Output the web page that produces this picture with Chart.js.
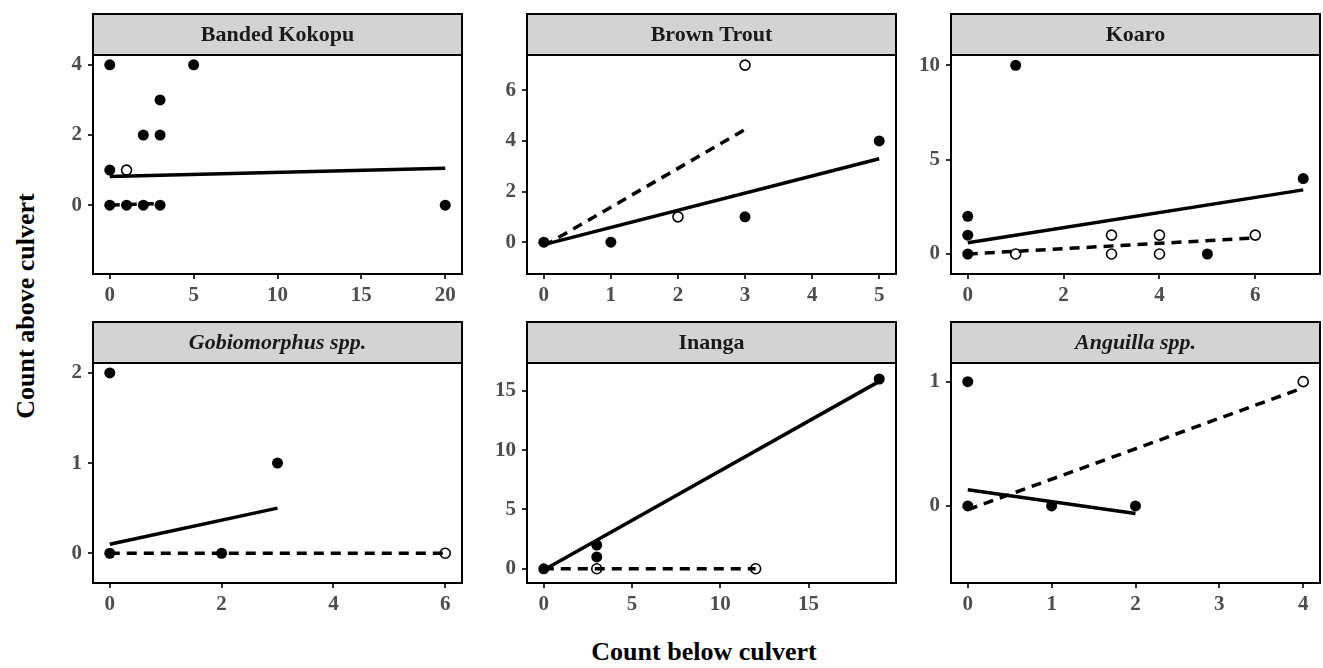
<!DOCTYPE html>
<html lang="en">
<head>
  <meta charset="UTF-8" />
  <title>Count above vs below culvert</title>
  <script src="https://cdn.jsdelivr.net/npm/chart.js"></script>
  <style>
    body { margin: 0; background: #fff; width: 1323px; height: 668px; position: relative; overflow: hidden; }
    canvas { position: absolute; }
    .ytitle {
      position: absolute; left: 26px; top: 306px;
      transform: translate(-50%, -50%) rotate(-90deg);
      font: bold 26px "Liberation Serif", "Times New Roman", serif; color: #000; white-space: nowrap;
    }
    .xtitle {
      position: absolute; left: 704px; top: 652px;
      transform: translate(-50%, -50%);
      font: bold 26px "Liberation Serif", "Times New Roman", serif; color: #000; white-space: nowrap;
    }
  </style>
</head>
<body>

  <div class="ytitle">Count above culvert</div>
  <div class="xtitle">Count below culvert</div>

  <script>
    // filled = one survey type, open = the other; each fit line is two end points
    const kokopuFilled = [[0,4],[5,4],[3,3],[2,2],[3,2],[0,1],[0,0],[1,0],[2,0],[3,0],[20,0]];
    const kokopuOpen   = [[1,1]];
    const kokopuSolid  = [[0,0.82],[20,1.05]];
    const kokopuDashed = [[0,0],[3,0.05]];

    const troutFilled = [[0,0],[1,0],[3,1],[5,4]];
    const troutOpen   = [[3,7],[2,1]];
    const troutSolid  = [[0,-0.1],[5,3.3]];
    const troutDashed = [[0,-0.15],[3,4.45]];

    const koaroFilled = [[0,2],[0,1],[0,0],[1,10],[5,0],[7,4]];
    const koaroOpen   = [[1,0],[3,1],[3,0],[4,1],[4,0],[6,1]];
    const koaroSolid  = [[0,0.6],[7,3.4]];
    const koaroDashed = [[0,0],[6,0.85]];

    const gobioFilled = [[0,2],[0,0],[2,0],[3,1]];
    const gobioOpen   = [[6,0]];
    const gobioSolid  = [[0,0.1],[3,0.5]];
    const gobioDashed = [[0,0],[6,0]];

    const inangaFilled = [[0,0],[3,2],[3,1],[19,16]];
    const inangaOpen   = [[3,0],[12,0]];
    const inangaSolid  = [[0,-0.1],[19,15.8]];
    const inangaDashed = [[0,0],[12,0]];

    const anguillaFilled = [[0,1],[0,0],[1,0],[2,0]];
    const anguillaOpen   = [[4,1]];
    const anguillaSolid  = [[0,0.13],[2,-0.06]];
    const anguillaDashed = [[0,-0.03],[4,0.95]];

    const kokopuXTicks = [0,5,10,15,20],  kokopuYTicks = [0,2,4];
    const troutXTicks  = [0,1,2,3,4,5],   troutYTicks  = [0,2,4,6];
    const koaroXTicks  = [0,2,4,6],       koaroYTicks  = [0,5,10];
    const gobioXTicks  = [0,2,4,6],       gobioYTicks  = [0,1,2];
    const inangaXTicks = [0,5,10,15],     inangaYTicks = [0,5,10,15];
    const anguillaXTicks = [0,1,2,3,4],   anguillaYTicks = [0,1];

    const serif = '"Liberation Serif", "Times New Roman", serif';
    const cols = [93, 527, 951];        // plot left edges
    const plotW = 369;
    const rows = [{ strip: 14, top: 55, bottom: 274 }, { strip: 322, top: 363, bottom: 583 }];
    const yAxisW = 50, xAxisH = 36;

    const panels = [
      { title: 'Banded Kokopu', italic: false, col: 0, row: 0, filled: kokopuFilled, open: kokopuOpen, solid: kokopuSolid, dashed: kokopuDashed, x: [-1, 21], y: [-1.96, 4.28], xt: kokopuXTicks, yt: kokopuYTicks },
      { title: 'Brown Trout', italic: false, col: 1, row: 0, filled: troutFilled, open: troutOpen, solid: troutSolid, dashed: troutDashed, x: [-0.25, 5.25], y: [-1.26, 7.4], xt: troutXTicks, yt: troutYTicks },
      { title: 'Koaro', italic: false, col: 2, row: 0, filled: koaroFilled, open: koaroOpen, solid: koaroSolid, dashed: koaroDashed, x: [-0.35, 7.35], y: [-1.06, 10.55], xt: koaroXTicks, yt: koaroYTicks },
      { title: 'Gobiomorphus spp.', italic: true, col: 0, row: 1, filled: gobioFilled, open: gobioOpen, solid: gobioSolid, dashed: gobioDashed, x: [-0.3, 6.3], y: [-0.33, 2.11], xt: gobioXTicks, yt: gobioYTicks },
      { title: 'Inanga', italic: false, col: 1, row: 1, filled: inangaFilled, open: inangaOpen, solid: inangaSolid, dashed: inangaDashed, x: [-0.95, 19.95], y: [-1.2, 17.35], xt: inangaXTicks, yt: inangaYTicks },
      { title: 'Anguilla spp.', italic: true, col: 2, row: 1, filled: anguillaFilled, open: anguillaOpen, solid: anguillaSolid, dashed: anguillaDashed, x: [-0.2, 4.2], y: [-0.62, 1.15], xt: anguillaXTicks, yt: anguillaYTicks }
    ];

    const toXY = arr => arr.map(p => ({ x: p[0], y: p[1] }));

    // grey strip on top and a full box round the plot
    const facetPlugin = {
      id: 'facet',
      afterDatasetsDraw(chart, args, opts) {
        const a = chart.chartArea, c = chart.ctx;
        c.save();
        c.lineWidth = 2;
        c.strokeStyle = '#000';
        c.strokeRect(a.left, a.top, a.right - a.left, a.bottom - a.top);
        const sh = opts.stripH;
        c.fillStyle = '#d3d3d3';
        c.fillRect(a.left, a.top - sh, a.right - a.left, sh);
        c.strokeRect(a.left, a.top - sh, a.right - a.left, sh);
        c.fillStyle = '#1a1a1a';
        c.font = (opts.italic ? 'italic ' : '') + 'bold 22px ' + serif;
        c.textAlign = 'center';
        c.textBaseline = 'middle';
        c.fillText(opts.title, (a.left + a.right) / 2, a.top - sh / 2 + 1);
        c.restore();
      }
    };

    panels.forEach(p => {
      const r = rows[p.row];
      const canvas = document.createElement('canvas');
      const left = cols[p.col] - yAxisW;
      const top = r.strip - 2;
      const w = plotW + yAxisW + 3;
      const h = r.bottom - top + xAxisH;
      canvas.style.left = left + 'px';
      canvas.style.top = top + 'px';
      canvas.style.width = w + 'px';
      canvas.style.height = h + 'px';
      canvas.width = w;
      canvas.height = h;
      document.body.appendChild(canvas);

      const tickFont = { family: serif, size: 21, weight: 'bold' };
      new Chart(canvas.getContext('2d'), {
        type: 'scatter',
        data: {
          datasets: [
            { data: toXY(p.solid), showLine: true, borderColor: '#000', borderWidth: 3.5, pointRadius: 0, order: 0 },
            { data: toXY(p.dashed), showLine: true, borderColor: '#000', borderWidth: 3.5, borderDash: [10, 7], pointRadius: 0, order: 0 },
            { data: toXY(p.filled), pointRadius: 5.5, backgroundColor: '#000', borderColor: '#000', borderWidth: 0, order: 1 },
            { data: toXY(p.open), pointRadius: 5, backgroundColor: '#fff', borderColor: '#000', borderWidth: 1.6, order: 1 }
          ]
        },
        options: {
          responsive: false,
          animation: false,
          layout: { autoPadding: false, padding: { top: r.top - top, right: 3, left: 0, bottom: 0 } },
          plugins: {
            legend: { display: false },
            tooltip: { enabled: false },
            facet: { title: p.title, italic: p.italic, stripH: r.top - r.strip }
          },
          scales: {
            x: {
              type: 'linear', min: p.x[0], max: p.x[1],
              afterBuildTicks: s => { s.ticks = p.xt.map(v => ({ value: v })); },
              afterFit: s => { s.height = xAxisH; },
              grid: { drawOnChartArea: false, drawTicks: true, tickLength: 5, color: '#333', lineWidth: 2 },
              border: { display: false },
              ticks: { font: tickFont, color: '#4d4d4d', padding: 4, maxRotation: 0 }
            },
            y: {
              type: 'linear', min: p.y[0], max: p.y[1],
              afterBuildTicks: s => { s.ticks = p.yt.map(v => ({ value: v })); },
              afterFit: s => { s.width = yAxisW; },
              grid: { drawOnChartArea: false, drawTicks: true, tickLength: 5, color: '#333', lineWidth: 2 },
              border: { display: false },
              ticks: { font: tickFont, color: '#4d4d4d', padding: 6 }
            }
          }
        },
        plugins: [facetPlugin]
      });
    });
  </script>
</body>
</html>
